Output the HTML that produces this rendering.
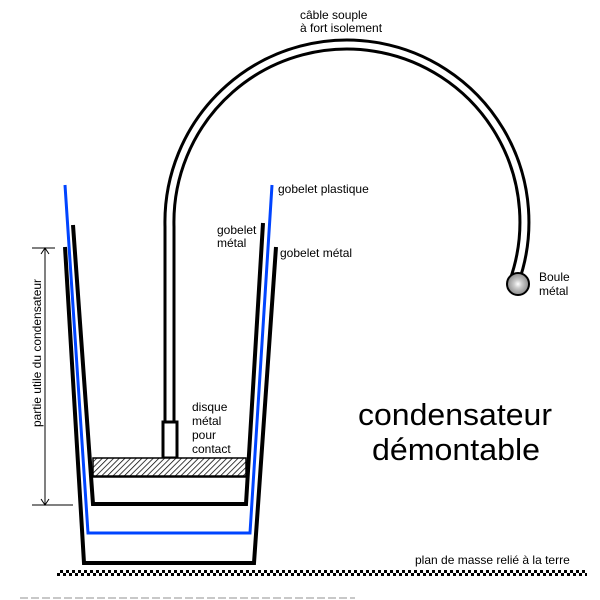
<!DOCTYPE html>
<html><head><meta charset="utf-8"><style>
body{margin:0;background:#fff}
svg{display:block}
text{font-family:"Liberation Sans",sans-serif;fill:#000}
</style></head><body>
<svg width="600" height="600" viewBox="0 0 600 600" xmlns="http://www.w3.org/2000/svg">
<defs>
<pattern id="h" width="4" height="4" patternUnits="userSpaceOnUse" patternTransform="rotate(45)">
<rect width="4" height="4" fill="#fff"/><line x1="0" y1="0" x2="0" y2="4" stroke="#000" stroke-width="1.5"/></pattern>
<pattern id="ck" width="6" height="6" patternUnits="userSpaceOnUse">
<rect width="6" height="6" fill="#fff"/><rect width="3" height="3" fill="#000"/><rect x="3" y="3" width="3" height="3" fill="#000"/></pattern>
<radialGradient id="b" cx="0.5" cy="0.5" r="0.6"><stop offset="0" stop-color="#fff"/><stop offset="0.3" stop-color="#ccc"/><stop offset="1" stop-color="#777"/></radialGradient>
</defs>
<path d="M169.5 422 V227 A177.5 177.5 0 1 1 514 282" fill="none" stroke="#000" stroke-width="12"/>
<path d="M169.5 424 V227 A177.5 177.5 0 1 1 514 282" fill="none" stroke="#fff" stroke-width="6"/>
<circle cx="518" cy="284" r="11" fill="url(#b)" stroke="#000" stroke-width="2"/>
<rect x="163" y="422" width="14" height="36" fill="#fff" stroke="#000" stroke-width="3"/>
<polyline points="65,247 84,563 254,563 276,247" fill="none" stroke="#000" stroke-width="4"/>
<polyline points="65,185 88,533 250,533 272,185" fill="none" stroke="#0044ff" stroke-width="3"/>
<polyline points="73,225 93,504 246,504 263,223" fill="none" stroke="#000" stroke-width="4"/>
<rect x="93" y="458" width="153" height="18" fill="url(#h)" stroke="#000" stroke-width="1.5"/>
<line x1="93" y1="477" x2="246" y2="477" stroke="#000" stroke-width="1.5"/>
<line x1="45" y1="248" x2="45" y2="505" stroke="#000" stroke-width="1"/>
<line x1="32" y1="248" x2="55" y2="248" stroke="#000" stroke-width="1"/>
<line x1="32" y1="505" x2="73" y2="505" stroke="#000" stroke-width="1"/>
<path d="M41 254 L45 248 L49 254 M41 499 L45 505 L49 499" fill="none" stroke="#000" stroke-width="1"/>
<text transform="translate(41 353) rotate(-90)" font-size="12" text-anchor="middle">partie utile du condensateur</text>
<rect x="57" y="570" width="530" height="6" fill="url(#ck)"/>
<line x1="20" y1="598" x2="355" y2="598" stroke="#c8c8c8" stroke-width="2" stroke-dasharray="8,3"/>
<g font-size="12">
<text x="300" y="19">câble souple</text>
<text x="300" y="32">à fort isolement</text>
<text x="278" y="193">gobelet plastique</text>
<text x="217" y="234">gobelet</text>
<text x="217" y="247">métal</text>
<text x="280" y="257">gobelet métal</text>
<text x="539" y="281">Boule</text>
<text x="539" y="295">métal</text>
<text x="192" y="411">disque</text>
<text x="192" y="425">métal</text>
<text x="192" y="439">pour</text>
<text x="192" y="453">contact</text>
<text x="415" y="564">plan de masse relié à la terre</text>
</g>
<text x="455" y="425" font-size="31" text-anchor="middle" textLength="194" lengthAdjust="spacingAndGlyphs">condensateur</text>
<text x="456" y="460" font-size="31" text-anchor="middle" textLength="168" lengthAdjust="spacingAndGlyphs">démontable</text>
</svg>
</body></html>
